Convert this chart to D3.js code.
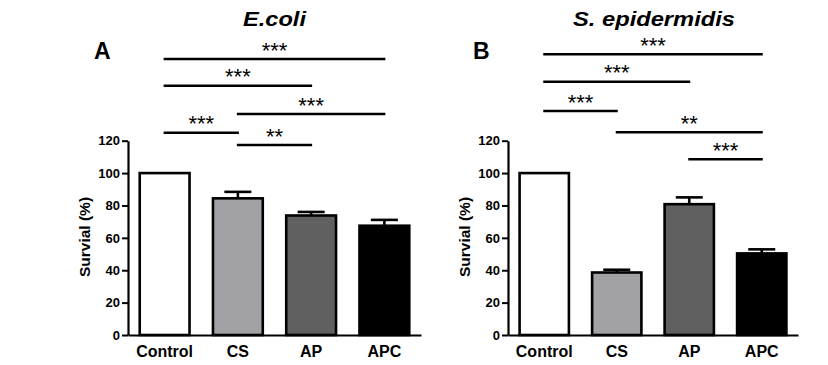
<!DOCTYPE html>
<html><head><meta charset="utf-8">
<script src="https://cdn.jsdelivr.net/npm/d3@7"></script>
<style>
body{margin:0;background:#fff;}
svg{display:block;font-family:Arial,"Liberation Sans",sans-serif;}
</style></head>
<body>
<svg id="chart" width="828" height="365"></svg>
<script>
const categories = ["Control","CS","AP","APC"];
const yTicks = [0,20,40,60,80,100,120];
const ecoliMeans = [100, 84.4, 73.8, 67.5];
const ecoliErr   = [0, 4.0, 2.2, 3.6];
const epiMeans   = [100, 38.6, 80.8, 50.4];
const epiErr     = [0, 1.7, 4.2, 2.5];
const ecoliSig = [["Control","APC","***"],["Control","AP","***"],["CS","APC","***"],["Control","CS","***"],["CS","AP","**"]];
const epiSig   = [["Control","APC","***"],["Control","AP","***"],["Control","CS","***"],["CS","APC","**"],["AP","APC","***"]];
const barColors = ["#ffffff","#a2a2a6","#606060","#000000"];

const svg = d3.select("#chart");

function panel(opt){
  const g = svg.append("g");
  const x = d3.scaleBand().domain(categories).range([opt.x0, opt.x1]).paddingInner(0.32).paddingOuter(0.16);
  const y = d3.scaleLinear().domain([0,120]).range([335,140.7]);

  g.selectAll("rect.bar").data(opt.means).join("rect")
    .attr("x",(d,i)=>x(categories[i]))
    .attr("y",d=>y(d))
    .attr("width",x.bandwidth())
    .attr("height",d=>y(0)-y(d))
    .attr("fill",(d,i)=>barColors[i])
    .attr("stroke","#000").attr("stroke-width",2.6);

  opt.means.forEach((m,i)=>{
    if(!opt.err[i]) return;
    const cx = x(categories[i])+x.bandwidth()/2;
    g.append("line").attr("x1",cx).attr("x2",cx).attr("y1",y(m)).attr("y2",y(m+opt.err[i]))
      .attr("stroke","#000").attr("stroke-width",2.6);
    g.append("line").attr("x1",cx-13.5).attr("x2",cx+13.5).attr("y1",y(m+opt.err[i])).attr("y2",y(m+opt.err[i]))
      .attr("stroke","#000").attr("stroke-width",2.6);
  });

  const ya = g.append("g").attr("transform",`translate(${opt.x0},0)`)
    .call(d3.axisLeft(y).tickValues(yTicks).tickSize(6).tickSizeOuter(0).tickPadding(2));
  ya.select(".domain").attr("stroke-width",2.2);
  ya.selectAll(".tick line").attr("stroke-width",2);
  ya.selectAll("text").attr("font-size",13).attr("font-weight","bold").attr("fill","#000")
    .attr("font-family",'Arial,"Liberation Sans",sans-serif');

  const xa = g.append("g").attr("transform",`translate(0,${y(0)})`)
    .call(d3.axisBottom(x).tickSize(0).tickSizeOuter(0).tickPadding(10.5));
  xa.select(".domain").attr("stroke-width",2.2);
  xa.selectAll("text").attr("font-size",16).attr("font-weight","bold").attr("fill","#000")
    .attr("font-family",'Arial,"Liberation Sans",sans-serif');

  g.append("text").attr("transform",`translate(${opt.x0-38},237) rotate(-90)`)
    .attr("text-anchor","middle").attr("font-size",15.5).attr("font-weight","bold").text("Survial (%)");

  g.append("text").attr("x",opt.titleX).attr("y",25.5).attr("text-anchor","middle")
    .attr("font-size",19.5).attr("font-weight","bold").attr("font-style","italic")
    .attr("textLength",opt.titleLen).attr("lengthAdjust","spacingAndGlyphs").text(opt.title);

  g.append("text").attr("x",opt.letterX).attr("y",59).attr("font-size",23).attr("font-weight","bold").text(opt.letter);

  opt.sig.forEach((s,k)=>{
    const a = x(s[0])+x.bandwidth()/2, b = x(s[1])+x.bandwidth()/2;
    const ly = opt.levels[k];
    g.append("line").attr("x1",a-1).attr("x2",b+1).attr("y1",ly).attr("y2",ly)
      .attr("stroke","#000").attr("stroke-width",2.6);
    g.append("text").attr("x",(a+b)/2).attr("y",ly-1.5).attr("text-anchor","middle")
      .attr("font-size",22).text(s[2]);
  });
}

panel({x0:128,x1:421,means:ecoliMeans,err:ecoliErr,sig:ecoliSig,levels:[59,85.7,114,132.7,145],
  title:"E.coli",titleX:274.5,titleLen:63,letter:"A",letterX:94});
panel({x0:508,x1:798,means:epiMeans,err:epiErr,sig:epiSig,levels:[54.3,81.7,111,132.3,159.3],
  title:"S. epidermidis",titleX:654,titleLen:162,letter:"B",letterX:473});
</script>
</body></html>
